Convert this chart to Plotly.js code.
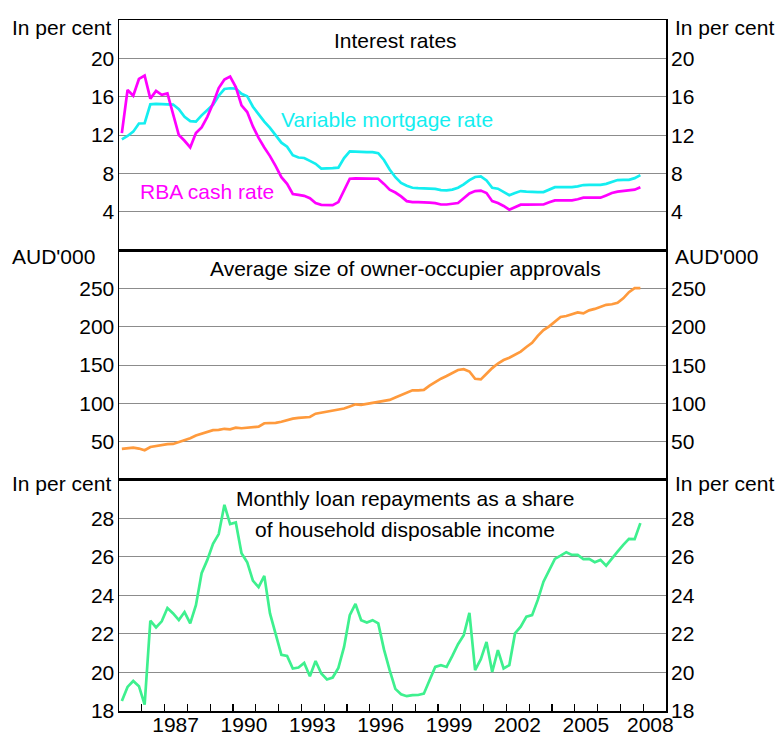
<!DOCTYPE html>
<html>
<head>
<meta charset="utf-8">
<script src="https://cdn.plot.ly/plotly-3.0.1.min.js"></script>
<style>
  html, body { margin: 0; padding: 0; background: #ffffff; }
  #chart { width: 779px; height: 736px; }
</style>
</head>
<body>
<div id="chart"></div>
<script>
// Quarterly observations, March 1985 to December 2007
const firstYear = 1985;
const nQuarters = 92;

// RBA cash rate (per cent)
const cashRate = [
  12.2,16.7,16.1,17.85,18.2,15.8,16.6,16.2,16.35,14.2,
  12.0,11.4,10.7,12.2,12.8,13.9,15.3,16.9,17.8,18.1,
  17.0,15.1,14.4,12.9,11.7,10.7,9.8,8.75,7.6,6.9,
  5.85,5.75,5.65,5.4,4.9,4.72,4.69,4.69,5.0,6.2,
  7.44,7.47,7.47,7.47,7.47,7.44,6.9,6.3,6.0,5.6,
  5.1,5.0,5.0,5.0,4.95,4.9,4.75,4.75,4.8,4.9,
  5.4,5.9,6.15,6.2,5.95,5.1,4.9,4.6,4.2,4.45,
  4.73,4.73,4.73,4.73,4.75,4.98,5.18,5.18,5.18,5.18,
  5.3,5.46,5.46,5.46,5.46,5.7,5.95,6.1,6.15,6.22,
  6.3,6.55
];

// Variable mortgage rate (per cent)
const mortgageRate = [
  11.55,11.9,12.35,13.2,13.23,15.2,15.25,15.25,15.25,15.18,
  14.7,13.9,13.45,13.4,14.05,14.55,15.15,16.1,16.8,16.88,
  16.85,16.3,16.05,14.95,14.15,13.4,12.75,11.95,11.2,10.78,
  9.9,9.65,9.6,9.3,9.0,8.5,8.5,8.55,8.6,9.6,
  10.3,10.25,10.22,10.21,10.21,10.1,9.4,8.4,7.6,7.0,
  6.7,6.5,6.45,6.45,6.45,6.38,6.25,6.22,6.3,6.5,
  6.85,7.3,7.62,7.68,7.26,6.5,6.4,6.05,5.72,5.95,
  6.15,6.1,6.05,6.04,6.05,6.3,6.56,6.56,6.56,6.56,
  6.65,6.78,6.8,6.8,6.8,6.9,7.1,7.3,7.33,7.33,
  7.5,7.82
];

// Average size of owner-occupier approvals (AUD'000)
const loanSize = [
  40.5,41.5,42.2,41,38.8,43,44.2,45.3,46.8,47,
  49.5,51.8,54.5,58,60.5,63.5,65,65.3,66.8,66.1,
  68.2,67.5,68,69,69.6,74,74,74.5,76,78,
  80,81,81.7,82.2,86.5,87.8,89.5,91.2,92.3,93.3,
  96,98.7,97.9,99.2,100.5,101.7,102.8,104.5,107.5,110.5,
  114,117,116.8,117.5,123,127.8,132.2,135.6,139.5,143.5,
  144.6,141.5,132,131.2,138.5,146,152,156.5,159.6,163.5,
  167.5,173.5,179,188,195.5,200.5,206,212.6,214,216.5,
  218.5,217.3,221.3,223.2,226,228.5,229.3,231.2,237,245,
  250.3,250.2
];

// Monthly loan repayments as a share of household disposable income (per cent)
const repaymentShare = [
  18.52,19.25,19.56,19.29, 18.33,22.69,22.34,22.66,
  23.35,23.07,22.72,23.14, 22.55,23.5,25.16,25.85,
  26.68,27.19,28.71,27.71, 27.79,26.2,25.73,24.77,
  24.43,25.02,23.07,22.03, 20.92,20.86,20.21,20.26,
  20.5,19.81,20.6,19.95,   19.64,19.74,20.24,21.33,
  22.98,23.56,22.72,22.6,  22.72,22.55,21.2,20.12,
  19.15,18.87,18.77,18.82, 18.83,18.9,19.6,20.29,
  20.38,20.29,20.86,21.47, 21.94,23.1,20.12,20.69,
  21.59,20.03,21.16,20.21, 20.38,22.03,22.38,22.9,
  22.98,23.77,24.72,25.33, 25.9,26.07,26.25,26.11,
  26.11,25.89,25.9,25.73,  25.85,25.55,25.94,26.28,
  26.63,26.94,26.93,27.76
];

// Axis ticks and labels
const yearTicks = [];
for (let y = 1986; y <= 2008; y++) yearTicks.push(y);
const yearLabels = ['1987','1990','1993','1996','1999','2002','2005','2008'];
const rateTicks = [4, 8, 12, 16, 20];
const sizeTicks = [50, 100, 150, 200, 250];
const shareTicks = [18, 20, 22, 24, 26, 28];

// quarter mid-points as decimal years
const quarters = [];
for (let i = 0; i < nQuarters; i++) quarters.push(firstYear + 0.125 + 0.25 * i);
const lastLabel = yearLabels[yearLabels.length - 1];
// axis carries all year labels but the last, which is placed slightly inward
const yearTickText = yearTicks.map(y => {
  const s = String(y);
  return (yearLabels.indexOf(s) >= 0 && s !== lastLabel) ? s : '';
});

const FONT = 'Liberation Sans, Arial, Helvetica, sans-serif';
const FS = 21;
const GRID = '#8c8c8c';
const XR = [1985, 2009];
const dB = [0, 0.3343];
const dM = [0.3343, 0.6671];
const dT = [0.6671, 1];

const traces = [
  {x: quarters, y: mortgageRate, xaxis: 'x3', yaxis: 'y3', type: 'scatter', mode: 'lines',
   line: {color: '#14EEF0', width: 2.7}, name: 'Variable mortgage rate', hoverinfo: 'skip'},
  {x: quarters, y: cashRate, xaxis: 'x3', yaxis: 'y3', type: 'scatter', mode: 'lines',
   line: {color: '#FF00FF', width: 2.7}, name: 'RBA cash rate', hoverinfo: 'skip'},
  {x: quarters, y: loanSize, xaxis: 'x2', yaxis: 'y2', type: 'scatter', mode: 'lines',
   line: {color: '#FF9A3C', width: 2.7}, name: 'Average loan size', hoverinfo: 'skip'},
  {x: quarters, y: repaymentShare, xaxis: 'x', yaxis: 'y', type: 'scatter', mode: 'lines',
   line: {color: '#3EF08E', width: 2.7}, name: 'Repayment share', hoverinfo: 'skip'}
];

function yAx(domain, range, ticks) {
  return {
    domain: domain, range: range, tickmode: 'array', tickvals: ticks,
    ticks: '', showgrid: true, gridcolor: GRID, gridwidth: 1, zeroline: false,
    showline: true, mirror: true, linecolor: '#000000', linewidth: 1.5,
    tickfont: {family: FONT, size: FS, color: '#000'}, ticklabelstandoff: -1,
    fixedrange: true
  };
}
function xAx(anchor, extra) {
  return Object.assign({
    anchor: anchor, range: XR, showgrid: false, zeroline: false,
    showline: true, mirror: true, linecolor: '#000000', linewidth: 1.5,
    showticklabels: false, ticks: '', fixedrange: true
  }, extra || {});
}

// right-hand tick labels, mirroring the left axes
const rightLabels = [];
function addRight(ticks, yref) {
  ticks.forEach(v => rightLabels.push({
    text: String(v), xref: 'paper', yref: yref, x: 1, y: v, xanchor: 'left', yanchor: 'middle',
    xshift: 3, showarrow: false
  }));
}
addRight(rateTicks, 'y3');
addRight(sizeTicks, 'y2');
addRight(shareTicks, 'y');

const layout = {
  width: 779, height: 736,
  margin: {l: 119, r: 113, t: 20, b: 25, pad: 0},
  paper_bgcolor: '#ffffff', plot_bgcolor: '#ffffff',
  showlegend: false,
  font: {family: FONT, size: FS, color: '#000'},
  xaxis: xAx('y', {tickmode: 'array', tickvals: yearTicks, ticktext: yearTickText,
                   showticklabels: true, ticks: 'inside', ticklen: 7,
                   tickwidth: 1.2, tickcolor: '#000', ticklabelshift: 11,
                   ticklabelstandoff: -6,
                   tickfont: {family: FONT, size: FS, color: '#000'}}),
  xaxis2: xAx('y2'),
  xaxis3: xAx('y3'),
  yaxis: yAx(dB, [18, 30], shareTicks),
  yaxis2: yAx(dM, [0, 300], sizeTicks),
  yaxis3: yAx(dT, [0, 24], rateTicks),
  annotations: rightLabels.concat([
    {text: lastLabel, xref: 'x', yref: 'paper', x: 2008.3, y: 0, xanchor: 'center', yanchor: 'middle', yshift: -13, showarrow: false},
    {text: 'In per cent', xref: 'paper', yref: 'paper', x: -0.1993, y: 1, xanchor: 'left', yanchor: 'middle', yshift: -7, showarrow: false},
    {text: 'In per cent', xref: 'paper', yref: 'paper', x: 1.013, y: 1, xanchor: 'left', yanchor: 'middle', yshift: -7, showarrow: false},
    {text: "AUD'000", xref: 'paper', yref: 'paper', x: -0.1993, y: dM[1], xanchor: 'left', yanchor: 'middle', yshift: -6, showarrow: false},
    {text: "AUD'000", xref: 'paper', yref: 'paper', x: 1.013, y: dM[1], xanchor: 'left', yanchor: 'middle', yshift: -6, showarrow: false},
    {text: 'In per cent', xref: 'paper', yref: 'paper', x: -0.1993, y: dB[1], xanchor: 'left', yanchor: 'middle', yshift: -4, showarrow: false},
    {text: 'In per cent', xref: 'paper', yref: 'paper', x: 1.013, y: dB[1], xanchor: 'left', yanchor: 'middle', yshift: -4, showarrow: false},
    {text: 'Interest rates', xref: 'x3', yref: 'y3', x: 1997.15, y: 21.85, xanchor: 'center', yanchor: 'middle', showarrow: false},
    {text: 'Variable mortgage rate', xref: 'x3', yref: 'y3', x: 1996.74, y: 13.6, xanchor: 'center', yanchor: 'middle', showarrow: false, font: {color: '#14EEF0'}},
    {text: 'RBA cash rate', xref: 'x3', yref: 'y3', x: 1988.88, y: 6.1, xanchor: 'center', yanchor: 'middle', showarrow: false, font: {color: '#FF00FF'}},
    {text: 'Average size of owner-occupier approvals', xref: 'x2', yref: 'y2', x: 1997.57, y: 276, xanchor: 'center', yanchor: 'middle', showarrow: false},
    {text: 'Monthly loan repayments as a share', xref: 'x', yref: 'y', x: 1997.55, y: 29.03, xanchor: 'center', yanchor: 'middle', showarrow: false},
    {text: 'of household disposable income', xref: 'x', yref: 'y', x: 1997.53, y: 27.41, xanchor: 'center', yanchor: 'middle', showarrow: false}
  ])
};

Plotly.newPlot('chart', traces, layout, {staticPlot: true, displayModeBar: false});
</script>
</body>
</html>
